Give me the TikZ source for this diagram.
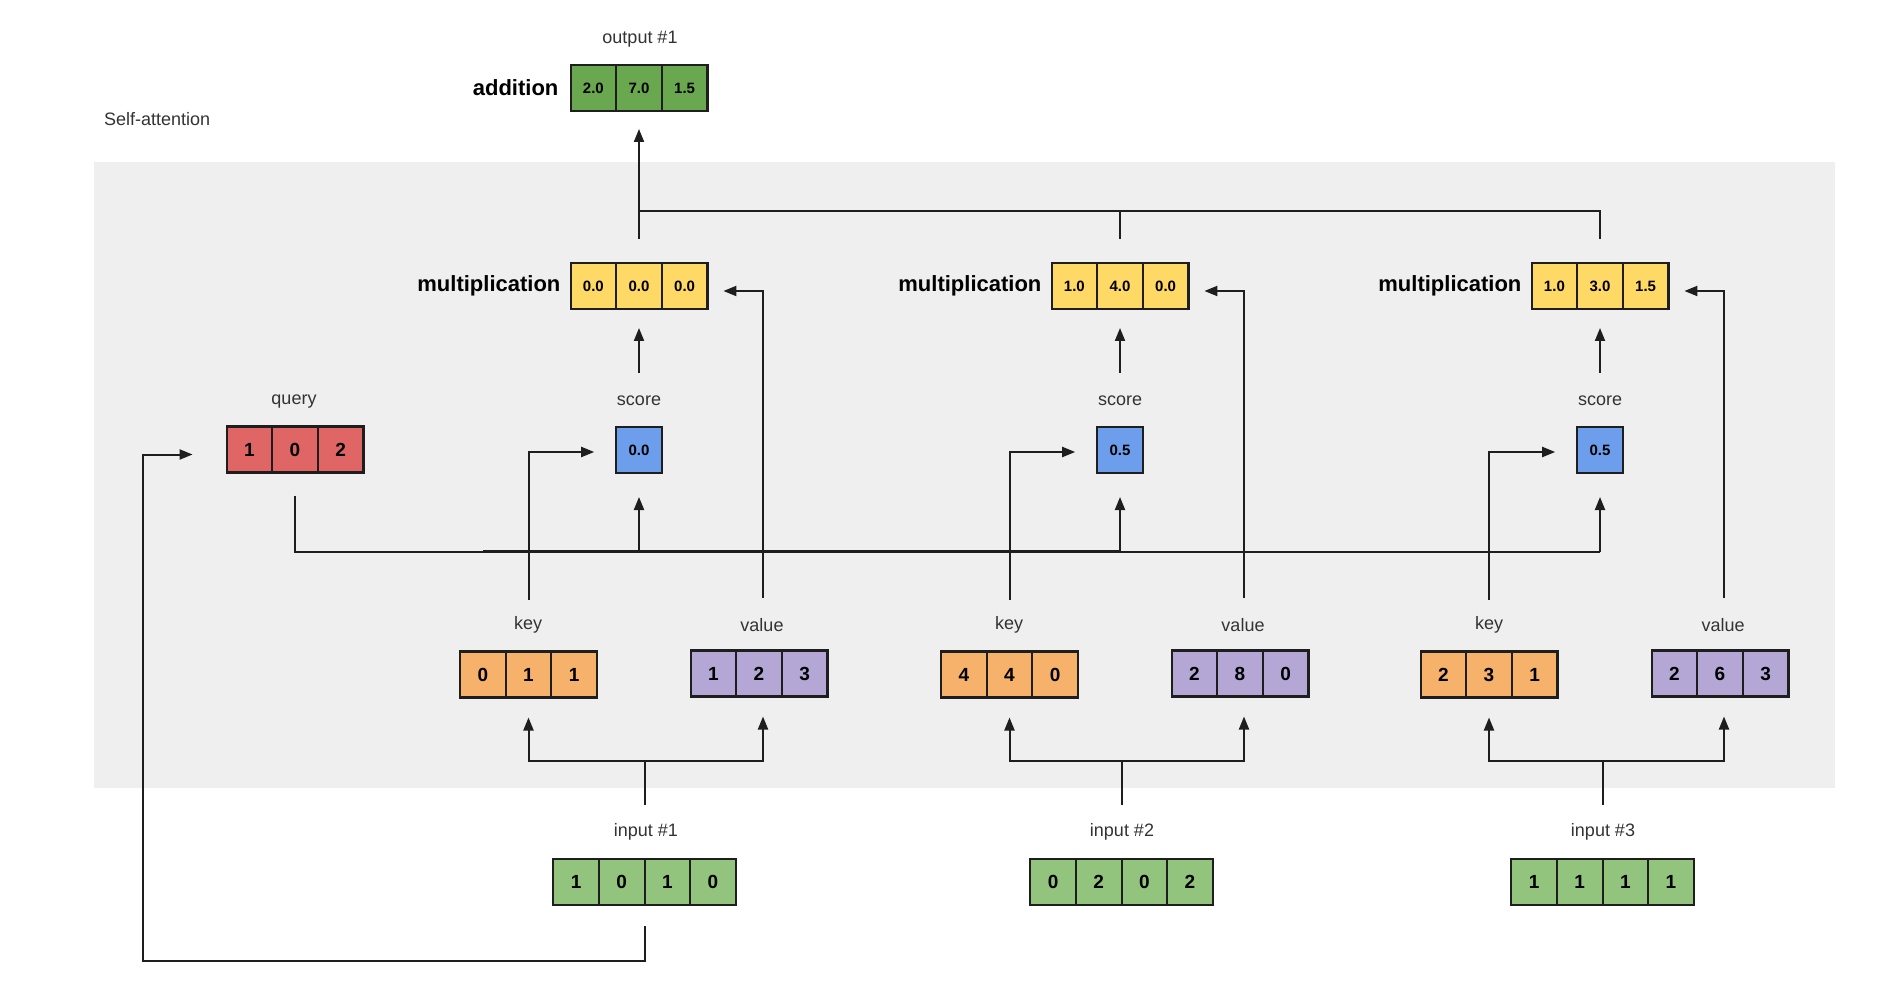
\documentclass[tikz,border=0pt]{standalone}
\usepackage{fontspec}
\setmainfont{Liberation Sans}
\usetikzlibrary{calc,arrows.meta}
\definecolor{linec}{HTML}{1E1E1E}
\definecolor{labc}{HTML}{333333}
\definecolor{panelc}{HTML}{EFEFEF}
\definecolor{addg}{HTML}{6AA84F}
\definecolor{ing}{HTML}{93C47D}
\definecolor{yel}{HTML}{FFD966}
\definecolor{blu}{HTML}{6D9EEB}
\definecolor{redc}{HTML}{E06666}
\definecolor{ora}{HTML}{F6B26B}
\definecolor{pur}{HTML}{B4A7D6}
\tikzset{
  ln/.style={draw=linec, line width=2pt},
  arr/.style={ln, -{Triangle[length=13pt,width=10pt]}},
  vbox/.style={draw=linec, line width=2.2pt, minimum height=46pt, inner sep=0pt, outer sep=0pt},
  cellsep/.style={draw=linec, line width=2pt},
  dig/.style={font=\fontsize{19}{22}\selectfont\bfseries, inner sep=0pt},
  dec/.style={font=\fontsize{15}{18}\selectfont\bfseries, inner sep=0pt},
  lbl/.style={font=\fontsize{18}{21}\selectfont, text=labc, inner sep=0pt},
  opl/.style={font=\fontsize{22}{26}\selectfont\bfseries, inner sep=0pt, anchor=east},
}
% #1 name, #2 x, #3 y, #4 number of cells, #5 fill, #6 text style, #7 values
\newcommand{\vecbox}[7]{%
  \pgfmathsetmacro{\vbw}{#4*45.6}%
  \node[vbox, fill=#5, minimum width=\vbw pt] (#1) at (#2,#3) {};
  \foreach \v [count=\i] in {#7} {
    \node[#6] (#1-\i) at ($(#1.west)+({(\i-0.5)*45.6},0)$) {\v};
  }
  \ifnum#4>1
    \foreach \i in {2,...,#4} {
      \draw[cellsep] ($(#1.north west)+({(\i-1)*45.6},0)$) -- ($(#1.south west)+({(\i-1)*45.6},0)$);
    }
  \fi
}
\begin{document}
\begin{tikzpicture}[x=1pt,y=-1pt]
\useasboundingbox (0,0) rectangle (1899,1000);
\fill[white] (0,0) rectangle (1899,1000);
\fill[panelc] (94,162) rectangle (1835,788);

\node[lbl, anchor=west] (title) at (104,119) {Self-attention};

% output
\node[lbl] (outl) at (640,39) {output \#1};
\vecbox{add}{639}{88}{3}{addg}{dec}{2.0,7.0,1.5}
\node[opl] (addl) at ([xshift=-12pt]add.west) {addition};

% query
\node[lbl] (ql) at (294,402) {query};
\vecbox{q}{295}{449.5}{3}{redc}{dig}{1,0,2}

% group 1
\vecbox{m1}{639}{286}{3}{yel}{dec}{0.0,0.0,0.0}
\node[opl] (m1l) at ([xshift=-10pt]m1.west) {multiplication};
\node[lbl] (s1l) at (639,401) {score};
\vecbox{s1}{639}{450}{1}{blu}{dec}{0.0}
\node[lbl] (k1l) at (528,625) {key};
\vecbox{k1}{528.5}{674.5}{3}{ora}{dig}{0,1,1}
\node[lbl] (v1l) at (762,625) {value};
\vecbox{v1}{759}{673.5}{3}{pur}{dig}{1,2,3}
\node[lbl] (i1l) at (646,832) {input \#1};
\vecbox{i1}{644.5}{882}{4}{ing}{dig}{1,0,1,0}

% group 2
\vecbox{m2}{1120}{286}{3}{yel}{dec}{1.0,4.0,0.0}
\node[opl] (m2l) at ([xshift=-10pt]m2.west) {multiplication};
\node[lbl] (s2l) at (1120,401) {score};
\vecbox{s2}{1120}{450}{1}{blu}{dec}{0.5}
\node[lbl] (k2l) at (1009,625) {key};
\vecbox{k2}{1009.5}{674.5}{3}{ora}{dig}{4,4,0}
\node[lbl] (v2l) at (1243,625) {value};
\vecbox{v2}{1240}{673.5}{3}{pur}{dig}{2,8,0}
\node[lbl] (i2l) at (1122,832) {input \#2};
\vecbox{i2}{1121.5}{882}{4}{ing}{dig}{0,2,0,2}

% group 3
\vecbox{m3}{1600}{286}{3}{yel}{dec}{1.0,3.0,1.5}
\node[opl] (m3l) at ([xshift=-10pt]m3.west) {multiplication};
\node[lbl] (s3l) at (1600,401) {score};
\vecbox{s3}{1600}{450}{1}{blu}{dec}{0.5}
\node[lbl] (k3l) at (1489,625) {key};
\vecbox{k3}{1489}{674.5}{3}{ora}{dig}{2,3,1}
\node[lbl] (v3l) at (1723,625) {value};
\vecbox{v3}{1720}{673.5}{3}{pur}{dig}{2,6,3}
\node[lbl] (i3l) at (1603,832) {input \#3};
\vecbox{i3}{1602.5}{882}{4}{ing}{dig}{1,1,1,1}

% multiplication -> addition
\coordinate (topbus) at ($(m1.north)+(0,-52)$);
\draw[ln] ([yshift=24pt]m3.north) |- (topbus);
\draw[ln] ([yshift=24pt]m2.north) -- (topbus -| m2.north);
\draw[arr] ([yshift=24pt]m1.north) -- ([yshift=-18pt]add.south);

% score -> multiplication, key -> score, value -> multiplication
\foreach \g in {1,2,3} {
  \draw[arr] ([yshift=54pt]s\g.north) -- ([yshift=-19pt]m\g.south);
  \draw[arr] ([yshift=52pt]k\g.north) |- ([xshift=-22pt,yshift=-2pt]s\g.west);
  \draw[arr] ([xshift=4pt,yshift=53pt]v\g.north) |- ([xshift=16pt,yshift=-5pt]m\g.east);
}

% query -> scores
\coordinate (qbus) at ($(q.south)+(0,79)$);
\draw[ln] ([yshift=-23pt]q.south) -- (qbus) -- (qbus -| s3.south);
\draw[ln, line width=2.8pt] ($(qbus)+(188,0)$) -- (qbus -| s2.south);
\foreach \s in {s1,s2,s3} {
  \draw[arr] (qbus -| \s.south) -- ([yshift=-24pt]\s.south);
}

% inputs -> key / value
\foreach \g in {1,2,3} {
  \coordinate (ib\g) at ($(i\g.north)+(0,-98)$);
  \draw[ln] ([yshift=54pt]i\g.north) -- (ib\g);
  \draw[arr] (ib\g) -| ([yshift=-20pt]k\g.south);
  \draw[arr] (ib\g) -| ([xshift=4pt,yshift=-20pt]v\g.south);
}

% input #1 -> query
\coordinate (lp) at (143,961);
\draw[arr] ([yshift=-21pt]i1.south) |- (lp) |- ([xshift=-34pt,yshift=-5pt]q.west);
\end{tikzpicture}
\end{document}
